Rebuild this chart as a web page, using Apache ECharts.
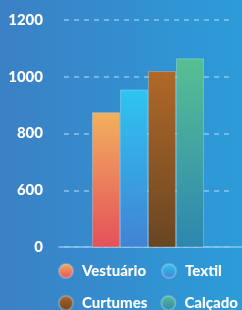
<!DOCTYPE html>
<html><head><meta charset="utf-8">
<script src="https://cdn.jsdelivr.net/npm/echarts@6/dist/echarts.min.js"></script>
<style>html,body{margin:0;padding:0;}#c{width:242px;height:310px;}</style>
</head><body><div id="c"></div>
<script>
var categories = ['Total'];
var seriesNames = ['Vestuário', 'Textil', 'Curtumes', 'Calçado'];
var vestuario = [875];
var textil = [955];
var curtumes = [1020];
var calcado = [1065];
var tickValues = [400, 600, 800, 1000, 1200];
var tickLabels = ['0', '600', '800', '1000', '1200'];

function grad(top, bottom) {
  return new echarts.graphic.LinearGradient(0, 0, 0, 1, [{offset: 0, color: top}, {offset: 1, color: bottom}]);
}
function rgrad(c1, c2) {
  return new echarts.graphic.RadialGradient(0.4, 0.35, 0.7, [{offset: 0, color: c1}, {offset: 1, color: c2}]);
}
var barColors = [
  grad('#fbb258', '#ee4d55'),
  grad('#2ec7f2', '#4282d4'),
  grad('#b8661f', '#6b4119'),
  grad('#58c290', '#2b86ae')
];
var iconColors = [
  rgrad('#fbb25a', '#ef5a4f'),
  rgrad('#38b6ee', '#3f6fc8'),
  rgrad('#b8661f', '#7a4a1a'),
  rgrad('#5ec79a', '#2f9a98')
];
var values = [vestuario, textil, curtumes, calcado];

var chart = echarts.init(document.getElementById('c'), null, {renderer: 'canvas'});
var font = 'Lato';
chart.setOption({
  backgroundColor: new echarts.graphic.LinearGradient(0, 0, 1, 0, [{offset: 0, color: '#3b80c5'}, {offset: 1, color: '#2c9cd8'}]),
  animation: false,
  grid: [
    {left: 64, right: 10, top: 20, bottom: 63},
    {left: 59, right: 0, top: 20, bottom: 63}
  ],
  xAxis: [
    {type: 'category', gridIndex: 0, data: categories, axisLine: {show: false}, axisTick: {show: false}, axisLabel: {show: false}},
    {type: 'category', gridIndex: 1, data: categories, axisLine: {show: true, lineStyle: {color: '#86c6ee', width: 1.5}}, axisTick: {show: false}, axisLabel: {show: false}}
  ],
  yAxis: [
    {type: 'value', gridIndex: 0, min: 400, max: 1200, interval: 200,
      axisLine: {show: false}, axisTick: {show: false},
      splitLine: {lineStyle: {color: 'rgba(160,210,245,0.8)', type: [5, 5], width: 1.5}},
      axisLabel: {color: '#ffffff', fontFamily: font, fontWeight: 900, fontSize: 15, margin: 21,
        formatter: function (v) { var k = tickValues.indexOf(v); return k >= 0 ? tickLabels[k] : ''; }}},
    {type: 'value', gridIndex: 1, min: 400, max: 1200, show: false}
  ],
  legend: [
    {data: [seriesNames[0], seriesNames[1]], left: 58, top: 263, padding: 0, icon: 'circle', itemWidth: 14, itemHeight: 14, itemGap: 15,
      textStyle: {color: '#fff', fontFamily: font, fontWeight: 900, fontSize: 15, padding: [0, 0, 0, 4]}},
    {data: [seriesNames[2], seriesNames[3]], left: 58, top: 295, padding: 0, icon: 'circle', itemWidth: 14, itemHeight: 14, itemGap: 13,
      textStyle: {color: '#fff', fontFamily: font, fontWeight: 900, fontSize: 15, padding: [0, 0, 0, 4]}}
  ],
  series: seriesNames.map(function (n, i) {
    return {
      name: n, type: 'bar', xAxisIndex: 0, yAxisIndex: 0,
      data: values[i], barWidth: 28, barGap: '0%',
      color: iconColors[i],
      itemStyle: {color: barColors[i], opacity: 0.95, borderColor: 'rgba(255,255,255,0.25)', borderWidth: 1}
    };
  })
});
</script></body></html>
